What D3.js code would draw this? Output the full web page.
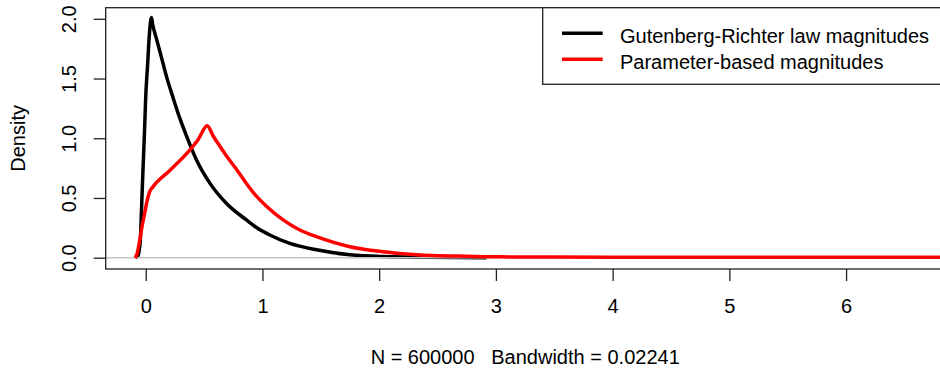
<!DOCTYPE html>
<html>
<head>
<meta charset="utf-8">
<script src="https://cdn.jsdelivr.net/npm/d3@7"></script>
<style>
html,body{margin:0;padding:0;background:#fff;}
svg{display:block;}
text{font-family:"Liberation Sans",Arial,sans-serif;fill:#000;}
</style>
</head>
<body>
<svg id="chart" width="940" height="372"></svg>
<script>
// ---- data ----
const grX = [-0.085, -0.07, -0.06, -0.045, -0.037, -0.025, -0.01, 0.0, 0.015, 0.032, 0.049, 0.06, 0.09, 0.12, 0.15, 0.177, 0.234, 0.291, 0.349, 0.434, 0.549, 0.69, 0.863, 0.949, 1.063, 1.234, 1.463, 1.749, 2.03, 2.4, 2.92];
const grY = [0.0, 0.01, 0.04, 0.17, 0.38, 0.7, 1.07, 1.35, 1.6, 1.88, 2.01, 1.95, 1.84, 1.73, 1.62, 1.52, 1.34, 1.17, 1.02, 0.82, 0.624, 0.456, 0.316, 0.253, 0.19, 0.12, 0.066, 0.024, 0.009, 0.003, 0.0];
const pbX = [-0.094, -0.075, -0.051, -0.03, -0.009, 0.01, 0.034, 0.063, 0.206, 0.377, 0.45, 0.526, 0.58, 0.634, 0.7, 0.777, 0.85, 0.92, 1.034, 1.177, 1.32, 1.463, 1.749, 2.034, 2.32, 2.46, 2.75, 3.03, 3.5, 4.5, 5.5, 7.0];
const pbY = [0.0, 0.03, 0.148, 0.27, 0.372, 0.47, 0.553, 0.595, 0.73, 0.9, 0.99, 1.104, 1.015, 0.935, 0.84, 0.74, 0.638, 0.547, 0.43, 0.316, 0.232, 0.176, 0.092, 0.05, 0.025, 0.018, 0.012, 0.007, 0.005, 0.004, 0.004, 0.004];
const xTicks = [0, 1, 2, 3, 4, 5, 6];
const yTicks = [0, 0.5, 1.0, 1.5, 2.0];
const seriesNames = ["Gutenberg-Richter law magnitudes", "Parameter-based magnitudes"];
const seriesColors = ["#000000", "#ff0000"];
const xLabel = "N = 600000   Bandwidth = 0.02241";
const yLabel = "Density";

// ---- layout ----
const svg = d3.select("#chart");
const L = 105.7, R = 944.7, T = 7.7, B = 269;
const x = d3.scaleLinear().domain([-0.343, 6.845]).range([L, R]);
const y = d3.scaleLinear().domain([-0.0947, 2.093]).range([B, T]);
const fs = 20;

svg.append("clipPath").attr("id", "clip")
  .append("rect").attr("x", L).attr("y", T).attr("width", R - L).attr("height", B - T);

const line = d3.line().x(d => x(d[0])).y(d => y(d[1])).curve(d3.curveMonotoneX);
const gr = grX.map((v, i) => [v, grY[i]]);
const pb = pbX.map((v, i) => [v, pbY[i]]);

const plot = svg.append("g").attr("clip-path", "url(#clip)");
plot.append("path").attr("d", line(gr)).attr("fill", "none")
  .attr("stroke", seriesColors[0]).attr("stroke-width", 3.5).attr("stroke-linejoin", "round");
plot.append("line").attr("x1", L).attr("x2", R).attr("y1", y(0)).attr("y2", y(0))
  .attr("stroke", "#c4c4c4").attr("stroke-width", 1.5);
plot.append("path").attr("d", line(pb)).attr("fill", "none")
  .attr("stroke", seriesColors[1]).attr("stroke-width", 3.5).attr("stroke-linejoin", "round");

// box
svg.append("rect").attr("x", L).attr("y", T).attr("width", R - L).attr("height", B - T)
  .attr("fill", "none").attr("stroke", "#222").attr("stroke-width", 1.3);

// x axis
const xAxis = d3.axisBottom(x).tickValues(xTicks).tickSize(12).tickPadding(0).tickFormat(d3.format("d"));
const gx = svg.append("g").attr("transform", `translate(0,${B})`).call(xAxis);
gx.select(".domain").remove();
gx.selectAll(".tick line").attr("stroke", "#222").attr("stroke-width", 1.3);
gx.selectAll(".tick text").attr("y", 44).attr("dy", null)
  .style("font-family", '"Liberation Sans",Arial,sans-serif').style("font-size", fs + "px").attr("fill", "#000");

// y axis
const yAxis = d3.axisLeft(y).tickValues(yTicks).tickSize(12).tickFormat(d3.format(".1f"));
const gy = svg.append("g").attr("transform", `translate(${L},0)`).call(yAxis);
gy.select(".domain").remove();
gy.selectAll(".tick line").attr("stroke", "#222").attr("stroke-width", 1.3);
gy.selectAll(".tick text").attr("x", null).attr("dy", null).attr("text-anchor", "middle")
  .attr("transform", "translate(-29.7,0) rotate(-90)")
  .style("font-family", '"Liberation Sans",Arial,sans-serif').style("font-size", fs + "px").attr("fill", "#000");

// axis titles
svg.append("text").attr("x", (L + R) / 2).attr("y", 364).attr("text-anchor", "middle")
  .style("font-size", fs + "px").attr("xml:space", "preserve").style("white-space", "pre").text(xLabel);
svg.append("text").attr("transform", `translate(25,${(T + B) / 2}) rotate(-90)`).attr("text-anchor", "middle")
  .style("font-size", fs + "px").text(yLabel);

// legend
const lg = svg.append("g");
lg.append("rect").attr("x", 542.7).attr("y", T).attr("width", R - 542.7).attr("height", 84.3 - T)
  .attr("fill", "#fff").attr("stroke", "#222").attr("stroke-width", 1.3);
seriesNames.forEach((name, i) => {
  const ly = 33.3 + i * 26;
  lg.append("line").attr("x1", 562).attr("x2", 602.7).attr("y1", ly).attr("y2", ly)
    .attr("stroke", seriesColors[i]).attr("stroke-width", 3.5);
  lg.append("text").attr("x", 620).attr("y", ly + 10).style("font-size", fs + "px").text(name);
});
</script>
</body>
</html>
